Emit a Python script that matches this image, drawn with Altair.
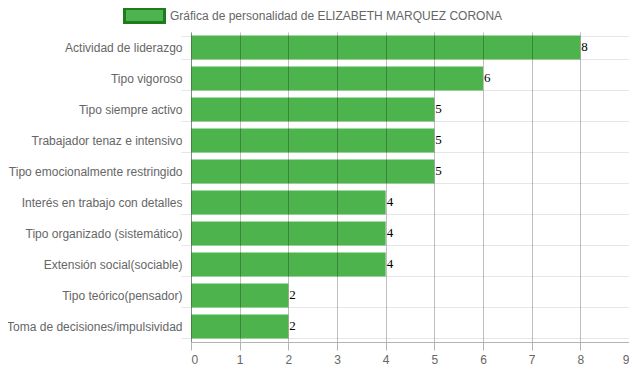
import altair as alt
import pandas as pd

categories = [
    "Actividad de liderazgo",
    "Tipo vigoroso",
    "Tipo siempre activo",
    "Trabajador tenaz e intensivo",
    "Tipo emocionalmente restringido",
    "Interés en trabajo con detalles",
    "Tipo organizado (sistemático)",
    "Extensión social(sociable)",
    "Tipo teórico(pensador)",
    "Toma de decisiones/impulsividad",
]
values = [8, 6, 5, 5, 5, 4, 4, 4, 2, 2]
series_name = "Gráfica de personalidad de ELIZABETH MARQUEZ CORONA"
x_ticks = list(range(0, 10))

df = pd.DataFrame({"cat": categories, "val": values, "series": series_name})

FONT = "Liberation Sans"

y_enc = alt.Y(
    "cat:N",
    sort=categories,
    title=None,
    scale=alt.Scale(paddingInner=0.23, paddingOuter=0.115),
    axis=alt.Axis(
        tickBand="extent",
        grid=True,
        gridColor="#e6e6e6",
        tickColor="#e6e6e6",
        tickSize=10,
        labelPadding=-1,
        labelFont=FONT,
        labelFontSize=12,
        labelColor="#666666",
        domainColor="#b3b3b3",
        labelLimit=300,
    ),
)

bars = alt.Chart(df).mark_bar(opacity=1).encode(
    x=alt.X(
        "val:Q",
        title=None,
        scale=alt.Scale(domain=[0, 9], nice=False),
        axis=alt.Axis(
            values=x_ticks,
            grid=True,
            gridColor="#000000",
            gridOpacity=0.25,
            tickColor="#b3b3b3",
            tickSize=8,
            domainColor="#b3b3b3",
            labelFont=FONT,
            labelFontSize=12,
            labelColor="#666666",
            labelPadding=4,
            zindex=1,
        ),
    ),
    y=y_enc,
    color=alt.Color(
        "series:N",
        scale=alt.Scale(range=["#4db34d"]),
        legend=alt.Legend(
            title=None,
            orient="none",
            legendX=-68,
            legendY=-38,
            symbolType="M-1,-0.35L1,-0.35L1,0.35L-1,0.35Z",
            symbolSize=1600,
            symbolStrokeColor="#1e7b1e",
            symbolStrokeWidth=3,
            symbolFillColor="#4db34d",
            labelFont=FONT,
            labelFontSize=12,
            labelColor="#666666",
            labelOffset=4,
            labelLimit=500,
        ),
    ),
)

text = alt.Chart(df).mark_text(
    align="left", baseline="middle", dx=1, dy=-1,
    font="Liberation Serif", fontSize=13, color="#000000",
).encode(
    x=alt.X("val:Q"),
    y=alt.Y("cat:N", sort=categories),
    text="val:Q",
)

chart = (
    alt.layer(bars, text)
    .properties(
        width=438,
        height=310,
        autosize=alt.AutoSizeParams(type="none"),
        padding={"left": 183, "top": 24, "right": 0, "bottom": 25},
    )
    .configure_view(stroke=None)
)

chart.save("out.html", embed_options={"renderer": "svg", "actions": False})
